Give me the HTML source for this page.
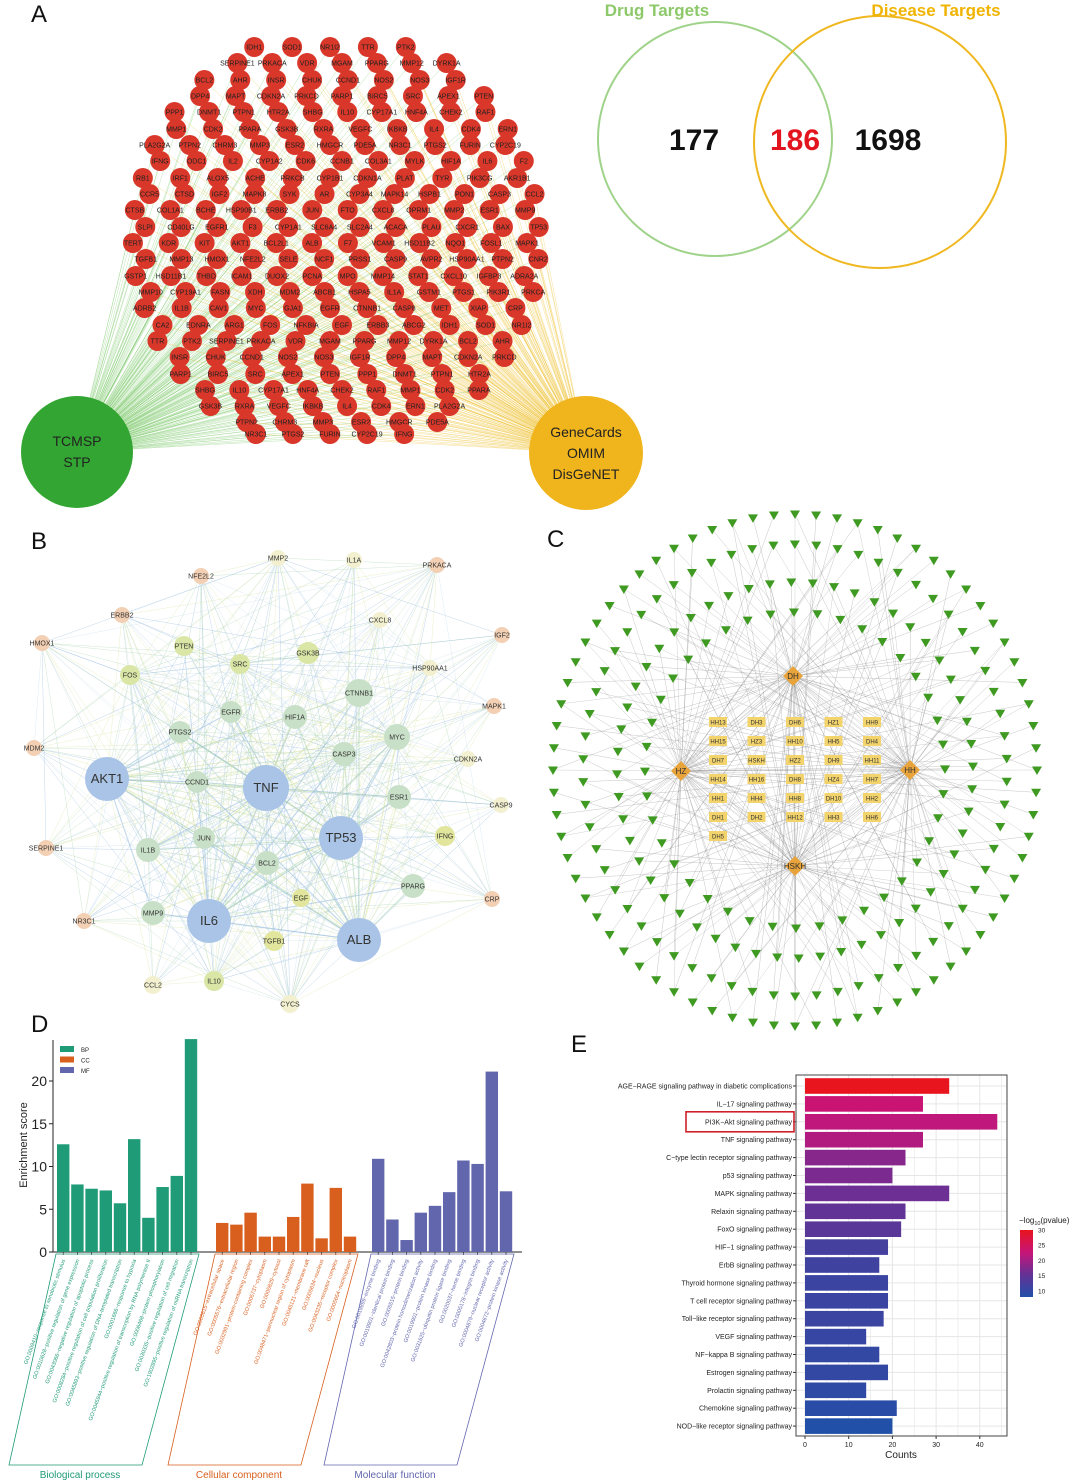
<!DOCTYPE html>
<html><head><meta charset="utf-8"><style>
html,body{margin:0;padding:0;background:#fff;}
svg{display:block;font-family:"Liberation Sans",sans-serif;}
</style></head><body>
<svg id="fig" width="1080" height="1482" viewBox="0 0 1080 1482" xmlns="http://www.w3.org/2000/svg">
<g font-size="24" fill="#111">
<text x="31" y="22">A</text>
<text x="31" y="549">B</text>
<text x="547" y="547">C</text>
<text x="31" y="1032">D</text>
<text x="571" y="1052">E</text>
</g>
<g id="pa"></g>
<g id="venn">
<circle cx="715" cy="139" r="117" fill="none" stroke="#9fd38a" stroke-width="2"/>
<circle cx="880" cy="142" r="126" fill="none" stroke="#f0b820" stroke-width="2"/>
<text x="657" y="16" font-size="17" font-weight="bold" fill="#8dc96a" text-anchor="middle">Drug Targets</text>
<text x="936" y="16" font-size="17" font-weight="bold" fill="#f0b400" text-anchor="middle">Disease Targets</text>
<text x="694" y="150" font-size="30" font-weight="bold" fill="#111" text-anchor="middle">177</text>
<text x="795" y="150" font-size="30" font-weight="bold" fill="#e2141e" text-anchor="middle">186</text>
<text x="888" y="150" font-size="30" font-weight="bold" fill="#111" text-anchor="middle">1698</text>
</g>
<g id="pb"></g>
<g id="pc"></g>
<g id="pd"></g>
<g id="pe"></g>
</svg>
<script>
const NS="http://www.w3.org/2000/svg";
function mk(p,tag,at){const e=document.createElementNS(NS,tag);for(const k in at)e.setAttribute(k,at[k]);p.appendChild(e);return e;}

/* ---------- Panel A ---------- */
const geneA=["IDH1","SOD1","NR1I2","TTR","PTK2","SERPINE1","PRKACA","VDR","MGAM","PPARG","MMP12","DYRK1A","BCL2","AHR","INSR","CHUK","CCND1","NOS2","NOS3","IGF1R","DPP4","MAPT","CDKN2A","PRKCD","PARP1","BIRC5","SRC","APEX1","PTEN","PPP1","DNMT1","PTPN1","HTR2A","SHBG","IL10","CYP17A1","HNF4A","CHEK2","RAF1","MMP1","CDK2","PPARA","GSK3B","RXRA","VEGFC","IKBKB","IL4","CDK4","ERN1","PLA2G2A","PTPN2","CHRM3","MMP3","ESR2","HMGCR","PDE5A","NR3C1","PTGS2","FURIN","CYP2C19","IFNG","ODC1","IL2","CYP1A2","CDK6","CCNB1","COL3A1","MYLK","HIF1A","IL6","F2","RB1","IRF1","ALOX5","ACHE","PRKCB","CYP1B1","CDKN1A","PLAT","TYR","PIK3CG","AKR1B1","CCR5","CTSD","IGF2","MAPK8","SYK","AR","CYP3A4","MAPK14","HSPB1","PON1","CASP3","CCL2","CTSB","COL1A1","BCHE","HSP90B1","ERBB2","JUN","FTO","CXCL8","OPRM1","MMP2","ESR1","MMP9","SLPI","CD40LG","EGFR1","F3","CYP1A1","SLC6A4","SLC2A4","ACACA","PLAU","CXCR1","BAX","TP53","TERT","KDR","KIT","AKT1","BCL2L1","ALB","F7","VCAM1","HSD11B2","NQO1","FOSL1","MAPK1","TGFB1","MMP13","HMOX1","NFE2L2","SELE","NCF1","PRSS1","CASP9","AVPR2","HSP90AA1","PTPN2","CNR2","GSTP1","HSD11B1","THBD","ICAM1","DUOX2","PCNA","MPO","MMP14","STAT1","CXCL10","IGFBP3","ADRA2A","MMP10","CYP19A1","FASN","XDH","MDM2","ABCB1","HSPA5","IL1A","GSTM1","PTGS1","PIK3R1","PRKCA","ADRB2","IL1B","CAV1","MYC","GJA1","EGFR","CTNNB1","CASP8","MET","XIAP","CRP","CA2","EDNRA","ARG1","FOS","NFKBIA","EGF","ERBB3","ABCG2"];
const rowY=[47,63,80,96,112,129,145,161,178,194,210,227,243,259,276,292,308,325,341,357,374,390,406,422,434];
(function(){
 const g=document.getElementById('pa');
 const L={x:77,y:452},R={x:586,y:453};
 const pts=[];let gi=0;
 rowY.forEach((y,ri)=>{
   const dy=(y-240)/215;const hw=Math.max(55,215*Math.sqrt(Math.max(0,1-dy*dy)));
   const n=Math.max(3,Math.round(2*hw/36));const step=2*hw/(n);
   for(let i=0;i<n;i++){pts.push({x:336-hw+step*(i+0.5)+(ri%2?6:-6),y:y,t:geneA[gi%geneA.length]});gi++;}
 });
 const eg=mk(g,'g',{});
 
 
 pts.forEach(p=>{
   mk(eg,'line',{x1:L.x,y1:L.y,x2:p.x,y2:p.y,stroke:'#7cc96a','stroke-width':0.5,'stroke-opacity':0.5});
   mk(eg,'line',{x1:R.x,y1:R.y,x2:p.x,y2:p.y,stroke:'#efc230','stroke-width':0.5,'stroke-opacity':0.5});
 });
 pts.forEach(p=>{
   const c=mk(g,'circle',{cx:p.x,cy:p.y,r:10,fill:'#d9372a'});
   
   
   const t=mk(g,'text',{x:p.x,y:p.y+2.5,'font-size':7,'text-anchor':'middle',fill:'#222'});t.textContent=p.t;
   
   
 });
 const c1=mk(g,'circle',{cx:L.x,cy:L.y,r:56,fill:'#33a532'});
 
 
 const c2=mk(g,'circle',{cx:R.x,cy:R.y,r:57,fill:'#f0b41c'});
 
 
 [["TCMSP",L.x,446],["STP",L.x,467],["GeneCards",R.x,437],["OMIM",R.x,458],["DisGeNET",R.x,479]].forEach(a=>{
   const t=mk(g,'text',{x:a[1],y:a[2],'font-size':14,'text-anchor':'middle',fill:'#222'});t.textContent=a[0];
   
   
 });
})();

/* ---------- Panel B ---------- */
const nodesB=[["AKT1",107,779,22,"#a9c4e6"],["TNF",266,788,23,"#a9c4e6"],["TP53",341,838,22,"#a9c4e6"],["IL6",209,921,22,"#a9c4e6"],["ALB",359,940,22,"#a9c4e6"],
["CTNNB1",359,693,14,"#c9e0c8"],["MYC",397,737,13,"#c9e0c8"],["HIF1A",295,717,12,"#c9e0c8"],["EGFR",231,712,11,"#c9e0c8"],["CASP3",344,754,12,"#c9e0c8"],["ESR1",399,797,12,"#c9e0c8"],["PTGS2",180,732,11,"#c9e0c8"],["CCND1",197,782,11,"#c9e0c8"],["JUN",204,838,11,"#c9e0c8"],["BCL2",267,863,12,"#c9e0c8"],["IL1B",148,850,12,"#c9e0c8"],["MMP9",153,913,12,"#c9e0c8"],["PPARG",413,886,12,"#c9e0c8"],
["SRC",240,664,10,"#d9e6a6"],["GSK3B",308,653,11,"#d9e6a6"],["PTEN",184,646,10,"#d9e6a6"],["FOS",130,675,10,"#d9e6a6"],["EGF",301,898,9,"#e2e69c"],["TGFB1",274,941,10,"#e2e69c"],["IL10",214,981,10,"#d9e6a6"],["IFNG",445,836,10,"#e2e69c"],
["CCL2",153,985,9,"#f2f0cf"],["CYCS",290,1004,9,"#f2f0cf"],["CASP9",501,805,8,"#f2f0cf"],["CDKN2A",468,759,8,"#f2f0cf"],["HSP90AA1",430,668,8,"#f2f0cf"],["CXCL8",380,620,8,"#f2f0cf"],["IL1A",354,560,8,"#f2f0cf"],["MMP2",278,558,8,"#f2f0cf"],
["MAPK1",494,706,8,"#f3d0b4"],["IGF2",502,635,8,"#f3d0b4"],["PRKACA",437,565,8,"#f3d0b4"],["NFE2L2",201,576,8,"#f3d0b4"],["ERBB2",122,615,8,"#f3d0b4"],["HMOX1",42,643,8,"#f3d0b4"],["MDM2",34,748,8,"#f3d0b4"],["SERPINE1",46,848,8,"#f3d0b4"],["NR3C1",84,921,8,"#f3d0b4"],["CRP",492,899,8,"#f3d0b4"]];
(function(){
 const g=document.getElementById('pb');const eg=mk(g,'g',{});
 
 
 const cols=['#8fb6dc','#a9d3b0','#d8e4a0','#c5dbe8'];
 for(let i=0;i<nodesB.length;i++)for(let j=i+1;j<nodesB.length;j++){
   if((i*7+j*3)%3===0||i<5){const w=(i<5&&j<18)?1.1:0.5;
   mk(eg,'line',{x1:nodesB[i][1],y1:nodesB[i][2],x2:nodesB[j][1],y2:nodesB[j][2],stroke:cols[(i+j)%4],'stroke-width':w,'stroke-opacity':0.55});}
 }
 nodesB.forEach(n=>{
   const c=mk(g,'circle',{cx:n[1],cy:n[2],r:n[3],fill:n[4]});
   
   
   const big=n[3]>=20;
   const t=mk(g,'text',{x:n[1],y:n[2]+(big?4:2.5),'font-size':big?13:7,'text-anchor':'middle',fill:'#333'});t.textContent=n[0];
   
   
 });
})();

/* ---------- Panel C ---------- */
const ringCounts=[72,62,52,40];
const ringRx=[242,212,178,150];
const ringRy=[256,226,188,158];
const herbs=[["DH",793,676],["HZ",681,771],["HH",910,770],["HSKH",795,866]];
const gridLabels=["HH13","DH3","DH6","HZ1","HH9","HH15","HZ3","HH10","HH5","DH4","DH7","HSKH","HZ2","DH9","HH11","HH14","HH16","DH8","HZ4","HH7","HH1","HH4","HH8","DH10","HH2","DH1","DH2","HH12","HH3","HH6","DH5"];
(function(){
 const g=document.getElementById('pc');const cx=795,cy=770;
 const eg=mk(g,'g',{});
 
 
 const tri=[];
 ringCounts.forEach((n,ri)=>{for(let k=0;k<n;k++){const a=2*Math.PI*k/n+ri*0.05;tri.push([cx+ringRx[ri]*Math.cos(a),cy+ringRy[ri]*Math.sin(a)]);}});
 tri.forEach((p,i)=>{const h=herbs[i%4];mk(eg,'line',{x1:h[1],y1:h[2],x2:p[0],y2:p[1],stroke:'#777','stroke-width':0.35,'stroke-opacity':0.6});
   if(i%3===0){const h2=herbs[(i+1)%4];mk(eg,'line',{x1:h2[1],y1:h2[2],x2:p[0],y2:p[1],stroke:'#777','stroke-width':0.35,'stroke-opacity':0.5});}});
 tri.forEach(p=>{const t=mk(g,'path',{d:`M${p[0]-5},${p[1]-3.5}L${p[0]+5},${p[1]-3.5}L${p[0]},${p[1]+5}Z`,fill:'#3f9a22'});
   
   });
 gridLabels.forEach((l,i)=>{const col=i%5,row=Math.floor(i/5);const x=718+col*38.5,y=722+row*19;
   const r=mk(g,'rect',{x:x-9,y:y-5,width:18,height:10,fill:'#f3d36b'});
   
   
   const t=mk(g,'text',{x:x,y:y+2.5,'font-size':6,'text-anchor':'middle',fill:'#333'});t.textContent=l;
   
   });
 herbs.forEach(h=>{const d=mk(g,'path',{d:`M${h[1]},${h[2]-10}L${h[1]+10},${h[2]}L${h[1]},${h[2]+10}L${h[1]-10},${h[2]}Z`,fill:'#e8a33a'});
   
   
   const t=mk(g,'text',{x:h[1],y:h[2]+3,'font-size':8,'text-anchor':'middle',fill:'#333'});t.textContent=h[0];
   
   });
})();

/* ---------- Panel D ---------- */
const bpValues=[12.6,7.9,7.4,7.2,5.7,13.2,4.0,7.6,8.9,24.9];
const ccValues=[3.4,3.2,4.6,1.8,1.8,4.1,8.0,1.6,7.5,1.8];
const mfValues=[10.9,3.8,1.4,4.6,5.4,7.0,10.7,10.3,21.1,7.1];
const bpTerms=["GO:0009410~response to xenobiotic stimulus","GO:0010628~positive regulation of gene expression","GO:0043066~negative regulation of apoptotic process","GO:0008284~positive regulation of cell population proliferation","GO:0045893~positive regulation of DNA-templated transcription","GO:0001666~response to hypoxia","GO:0045944~positive regulation of transcription by RNA polymerase II","GO:0006468~protein phosphorylation","GO:0030335~positive regulation of cell migration","GO:1902895~positive regulation of miRNA transcription"];
const ccTerms=["GO:0005615~extracellular space","GO:0005576~extracellular region","GO:0032991~protein-containing complex","GO:0005737~cytoplasm","GO:0005829~cytosol","GO:0048471~perinuclear region of cytoplasm","GO:0045121~membrane raft","GO:0005634~nucleus","GO:0043235~receptor complex","GO:0005654~nucleoplasm"];
const mfTerms=["GO:0019899~enzyme binding","GO:0019901~identical protein binding","GO:0005515~protein binding","GO:0042803~protein homodimerization activity","GO:0019901~protein kinase binding","GO:0031625~ubiquitin protein ligase binding","GO:0020037~heme binding","GO:0005178~integrin binding","GO:0004879~nuclear receptor activity","GO:0004672~protein kinase activity"];
const yTicksD=[0,5,10,15,20];
(function(){
 const g=document.getElementById('pd');
 const y0=1252,ppu=8.55;const Y=v=>y0-v*ppu;
 const groups=[{v:bpValues,t:bpTerms,x0:57,c:'#1f9b77',name:'Biological process',n:'bp'},{v:ccValues,t:ccTerms,x0:216,c:'#d95f1e',name:'Cellular component',n:'cc'},{v:mfValues,t:mfTerms,x0:372,c:'#6166ad',name:'Molecular function',n:'mf'}];
 const step=14.2,bw=12.4;
 mk(g,'line',{x1:53,y1:1040,x2:53,y2:y0,stroke:'#222','stroke-width':1});
 mk(g,'line',{x1:53,y1:y0,x2:522,y2:y0,stroke:'#222','stroke-width':1});
 yTicksD.forEach(v=>{mk(g,'line',{x1:49,y1:Y(v),x2:53,y2:Y(v),stroke:'#222'});
   const t=mk(g,'text',{x:47,y:Y(v)+5,'font-size':14,'text-anchor':'end',fill:'#222'});t.textContent=v;
   
   });
 const yt=mk(g,'text',{x:0,y:0,'font-size':11,'text-anchor':'middle',fill:'#222',transform:'translate(27,1145) rotate(-90)'});yt.textContent='Enrichment score';
 
 
 groups.forEach(gr=>{
   gr.v.forEach((v,i)=>{const x=gr.x0+i*step;
     const r=mk(g,'rect',{x:x,y:Y(v),width:bw,height:v*ppu,fill:gr.c});
     
     
     mk(g,'line',{x1:x+bw/2,y1:y0,x2:x+bw/2,y2:y0+3,stroke:'#222','stroke-width':0.7});
     const t=mk(g,'text',{x:0,y:0,'font-size':5.5,'text-anchor':'end',fill:gr.c,transform:`translate(${x+bw/2+2},${y0+8}) rotate(-70)`});t.textContent=gr.t[i];
     
     });
   const xa=gr.x0,xb=gr.x0+gr.v.length*step;
   const p=mk(g,'path',{d:`M${xa-1},${y0+2}L${xb},${y0+2}L${xb-57},1465L${xa-48},1465Z`,fill:'none',stroke:gr.c,'stroke-width':0.8});
   
   
   const gl=mk(g,'text',{x:xa+23,y:1478,'font-size':10,'text-anchor':'middle',fill:gr.c});gl.textContent=gr.name;
   
   
 });
 [['BP','#1f9b77'],['CC','#d95f1e'],['MF','#6166ad']].forEach((l,i)=>{
   const r=mk(g,'rect',{x:60,y:1046+i*10.5,width:14,height:6,fill:l[1]});
   
   
   const t=mk(g,'text',{x:81,y:1052+i*10.5,'font-size':6,fill:'#222'});t.textContent=l[0];
   
   });
})();

/* ---------- Panel E ---------- */
const pathways=["AGE−RAGE signaling pathway in diabetic complications","IL−17 signaling pathway","PI3K−Akt signaling pathway","TNF signaling pathway","C−type lectin receptor signaling pathway","p53 signaling pathway","MAPK signaling pathway","Relaxin signaling pathway","FoxO signaling pathway","HIF−1 signaling pathway","ErbB signaling pathway","Thyroid hormone signaling pathway","T cell receptor signaling pathway","Toll−like receptor signaling pathway","VEGF signaling pathway","NF−kappa B signaling pathway","Estrogen signaling pathway","Prolactin signaling pathway","Chemokine signaling pathway","NOD−like receptor signaling pathway"];
const counts=[33,27,44,27,23,20,33,23,22,19,17,19,19,18,14,17,19,14,21,20];
const logP=[30,23,22,21,18,17,16,15,14,12,11.5,11,11,11,10.5,10,10,9.5,9,8];
const xTicksE=[0,10,20,30,40];
const cbTicks=[10,15,20,25,30];
(function(){
 const g=document.getElementById('pe');
 const X=v=>805+v*4.37;const rowStep=17.9,firstY=1086;
 const col=v=>{const t=Math.max(0,Math.min(1,(v-8)/22));
   const stops=[[32,80,168],[100,50,150],[200,20,120],[232,20,30]];
   const s=t*3,i=Math.min(2,Math.floor(s)),f=s-i;const a=stops[i],b=stops[i+1];
   return `rgb(${Math.round(a[0]+(b[0]-a[0])*f)},${Math.round(a[1]+(b[1]-a[1])*f)},${Math.round(a[2]+(b[2]-a[2])*f)})`;};
 mk(g,'rect',{x:796,y:1075,width:211,height:361,fill:'#fff'});
 for(let v=0;v<=45;v+=5)mk(g,'line',{x1:X(v),y1:1075,x2:X(v),y2:1436,stroke:'#e6e6e6','stroke-width':v%10?0.6:1});
 pathways.forEach((p,i)=>{const y=firstY+i*rowStep;mk(g,'line',{x1:796,y1:y,x2:1007,y2:y,stroke:'#e6e6e6'});});
 pathways.forEach((p,i)=>{const y=firstY+i*rowStep;
   const r=mk(g,'rect',{x:X(0),y:y-7.8,width:X(counts[i])-X(0),height:15.6,fill:col(logP[i])});
   
   
   mk(g,'line',{x1:793,y1:y,x2:796,y2:y,stroke:'#333'});
   const t=mk(g,'text',{x:792,y:y+2.5,'font-size':7,'text-anchor':'end',fill:'#222'});t.textContent=p;
   
   });
 const hb=mk(g,'rect',{x:686,y:firstY+2*rowStep-10,width:108,height:20,fill:'none',stroke:'#d0202a','stroke-width':1.6});
 
 
 mk(g,'rect',{x:796,y:1075,width:211,height:361,fill:'none',stroke:'#444','stroke-width':1});
 xTicksE.forEach(v=>{mk(g,'line',{x1:X(v),y1:1436,x2:X(v),y2:1439,stroke:'#333'});
   const t=mk(g,'text',{x:X(v),y:1447,'font-size':7,'text-anchor':'middle',fill:'#222'});t.textContent=v;
   
   });
 const xt=mk(g,'text',{x:901,y:1458,'font-size':10,'text-anchor':'middle',fill:'#222'});xt.textContent='Counts';
 
 
 const defs=mk(g,'defs',{});const lg=mk(defs,'linearGradient',{id:'cb',x1:0,y1:1,x2:0,y2:0});
 [0,0.33,0.66,1].forEach((o,i)=>mk(lg,'stop',{offset:o,'stop-color':col(8+22*o)}));
 const cbr=mk(g,'rect',{x:1020,y:1230,width:13,height:67,fill:'url(#cb)'});
 
 
 cbTicks.forEach(v=>{const y=1297-(v-8)/22*67;const t=mk(g,'text',{x:1038,y:y+2.5,'font-size':6.5,fill:'#222'});t.textContent=v;
   
   });
 const ct=mk(g,'text',{x:1019,y:1223,'font-size':8,fill:'#222'});ct.innerHTML='−log<tspan font-size="5.5" dy="2">10</tspan><tspan dy="-2">(pvalue)</tspan>';
 
 
})();
</script>
</body></html>
